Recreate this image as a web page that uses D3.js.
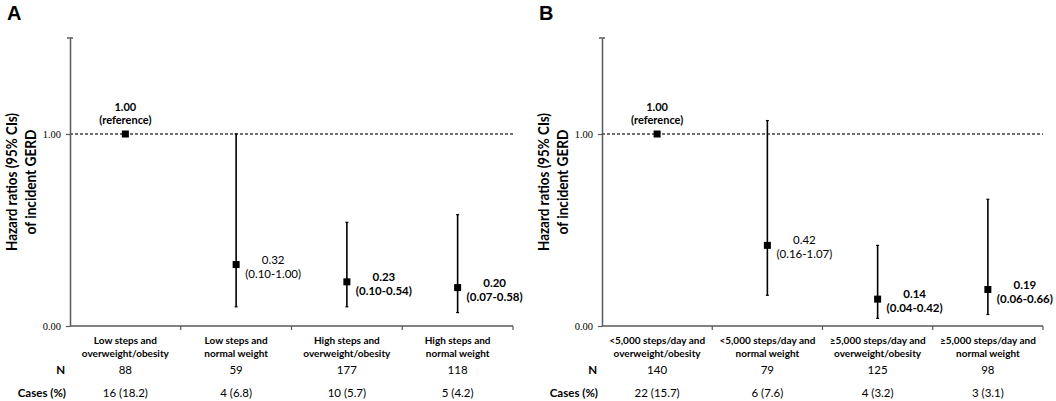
<!DOCTYPE html>
<html><head><meta charset="utf-8">
<script src="https://cdn.jsdelivr.net/npm/d3@7"></script>
<style>
body{margin:0;background:#fff;}
svg{display:block;}
.cal{font-family:Lato,"Open Sans",sans-serif;}
</style></head>
<body><svg id="c" width="1056" height="401"></svg>
<script>
// ---- Data ----
const catsA = [["Low steps and","overweight/obesity"],["Low steps and","normal weight"],["High steps and","overweight/obesity"],["High steps and","normal weight"]];
const hrA = [1.00, 0.32, 0.23, 0.20];
const lowA = [null, 0.10, 0.10, 0.07];
const highA = [null, 1.00, 0.54, 0.58];
const boldA = [true, false, true, true];
const nA = [88, 59, 177, 118];
const casesA = ["16 (18.2)", "4 (6.8)", "10 (5.7)", "5 (4.2)"];

const catsB = [["<5,000 steps/day and","overweight/obesity"],["<5,000 steps/day and","normal weight"],["\u22655,000 steps/day and","overweight/obesity"],["\u22655,000 steps/day and","normal weight"]];
const hrB = [1.00, 0.42, 0.14, 0.19];
const lowB = [null, 0.16, 0.04, 0.06];
const highB = [null, 1.07, 0.42, 0.66];
const boldB = [true, false, true, true];
const nB = [140, 79, 125, 98];
const casesB = ["22 (15.7)", "6 (7.6)", "4 (3.2)", "3 (3.1)"];

const yTicks = [0, 1];
const yTitle = ["Hazard ratios (95% CIs)", "of incident GERD"];

const svg = d3.select("#c");
const AX = "#595959";

function panel(opt){
  const {letter, x0, x1, cats, hr, low, high, bold, n, cases} = opt;
  const g = svg.append("g");
  const y = d3.scaleLinear().domain([0,1.5]).range([326,38]);
  const x = d3.scaleBand().domain(d3.range(cats.length)).range([x0,x1]).padding(0);
  const cx = i => x(i) + x.bandwidth()/2;

  // panel letter
  g.append("text").attr("x", x0-63).attr("y", 20)
    .attr("font-family","Liberation Sans, Arial, sans-serif").attr("font-weight","bold")
    .attr("font-size", 20).text(letter);

  // y title
  const yc = (y(0)+y(1.5))/2;
  const tl = [138, 105];
  yTitle.forEach((t,k)=>{
    g.append("text").attr("class","cal")
      .attr("transform",`translate(${x0-53+k*19},${yc}) rotate(-90)`)
      .attr("text-anchor","middle").attr("font-weight","bold").attr("font-size",16)
      .attr("textLength", tl[k]).attr("lengthAdjust","spacingAndGlyphs")
      .attr("fill","#000").text(t);
  });

  // reference dashed line
  g.append("line").attr("x1",x0).attr("x2",x1).attr("y1",y(1)).attr("y2",y(1))
    .attr("stroke","#404040").attr("stroke-width",1.3).attr("stroke-dasharray","3,2");

  // y axis
  const ya = g.append("g").attr("transform",`translate(${x0},0)`)
    .call(d3.axisLeft(y).tickValues(yTicks).tickFormat(d3.format(".2f")).tickSize(4).tickSizeOuter(0).tickPadding(5));
  ya.select(".domain").attr("stroke",AX).attr("stroke-width",1.5);
  ya.selectAll(".tick line").attr("stroke",AX).attr("stroke-width",1.2);
  ya.selectAll(".tick text").attr("font-family","Liberation Serif, Times New Roman, serif")
    .attr("font-size",10.5).attr("fill","#000");
  g.append("line").attr("x1",x0-3).attr("x2",x0+3).attr("y1",y(1.5)).attr("y2",y(1.5))
    .attr("stroke",AX).attr("stroke-width",1.5);

  // x axis
  g.append("line").attr("x1",x0).attr("x2",x1).attr("y1",y(0)).attr("y2",y(0))
    .attr("stroke",AX).attr("stroke-width",1.5);
  cats.forEach((c,i)=>{
    const bx = x(i)+x.bandwidth();
    g.append("line").attr("x1",bx).attr("x2",bx).attr("y1",y(0)).attr("y2",y(0)+4)
      .attr("stroke",AX).attr("stroke-width",1.2);
  });

  // error bars and points
  hr.forEach((v,i)=>{
    if(low[i]!==null){
      g.append("line").attr("x1",cx(i)).attr("x2",cx(i)).attr("y1",y(low[i])).attr("y2",y(high[i]))
        .attr("stroke","#000").attr("stroke-width",1.6);
      [low[i],high[i]].forEach(b=>{
        g.append("line").attr("x1",cx(i)-1.5).attr("x2",cx(i)+1.5).attr("y1",y(b)).attr("y2",y(b))
          .attr("stroke","#000").attr("stroke-width",1.2);
      });
    }
    g.append("rect").attr("x",cx(i)-3.5).attr("y",y(v)-3.5).attr("width",7).attr("height",7).attr("fill","#000");

    // value labels
    let l1, l2, lx, ly, anchor="middle";
    if(low[i]===null){
      l1 = v.toFixed(2); l2 = "(reference)"; lx = cx(i); ly = y(v)-23;
    } else {
      l1 = v.toFixed(2); l2 = `(${low[i].toFixed(2)}-${high[i].toFixed(2)})`; lx = cx(i)+37; ly = y(v)-1;
    }
    const fs = low[i]===null ? 11 : 11.5;
    const lh = low[i]===null ? 12.5 : 14;
    [l1,l2].forEach((t,k)=>{
      g.append("text").attr("class","cal").attr("x",lx).attr("y",ly+k*lh)
        .attr("text-anchor",anchor).attr("font-size",fs)
        .attr("font-weight",bold[i]?"bold":"normal").attr("fill","#000").text(t);
    });

    // category labels
    cats[i].forEach((t,k)=>{
      g.append("text").attr("class","cal").attr("x",cx(i)).attr("y",344+k*13)
        .attr("text-anchor","middle").attr("font-size",10).attr("font-weight","bold").text(t);
    });
    g.append("text").attr("class","cal").attr("x",cx(i)).attr("y",374)
      .attr("text-anchor","middle").attr("font-size",11.5).text(n[i]);
    g.append("text").attr("class","cal").attr("x",cx(i)).attr("y",397)
      .attr("text-anchor","middle").attr("font-size",11.5).text(cases[i]);
  });

  g.append("text").attr("class","cal").attr("x",x0-5).attr("y",374).attr("text-anchor","end")
    .attr("font-size",11.5).attr("font-weight","bold").text("N");
  g.append("text").attr("class","cal").attr("x",x0-4).attr("y",397).attr("text-anchor","end")
    .attr("font-size",11.5).attr("font-weight","bold").text("Cases (%)");
}

panel({letter:"A", x0:70, x1:513, cats:catsA, hr:hrA, low:lowA, high:highA, bold:boldA, n:nA, cases:casesA});
panel({letter:"B", x0:602, x1:1043, cats:catsB, hr:hrB, low:lowB, high:highB, bold:boldB, n:nB, cases:casesB});
</script></body></html>
